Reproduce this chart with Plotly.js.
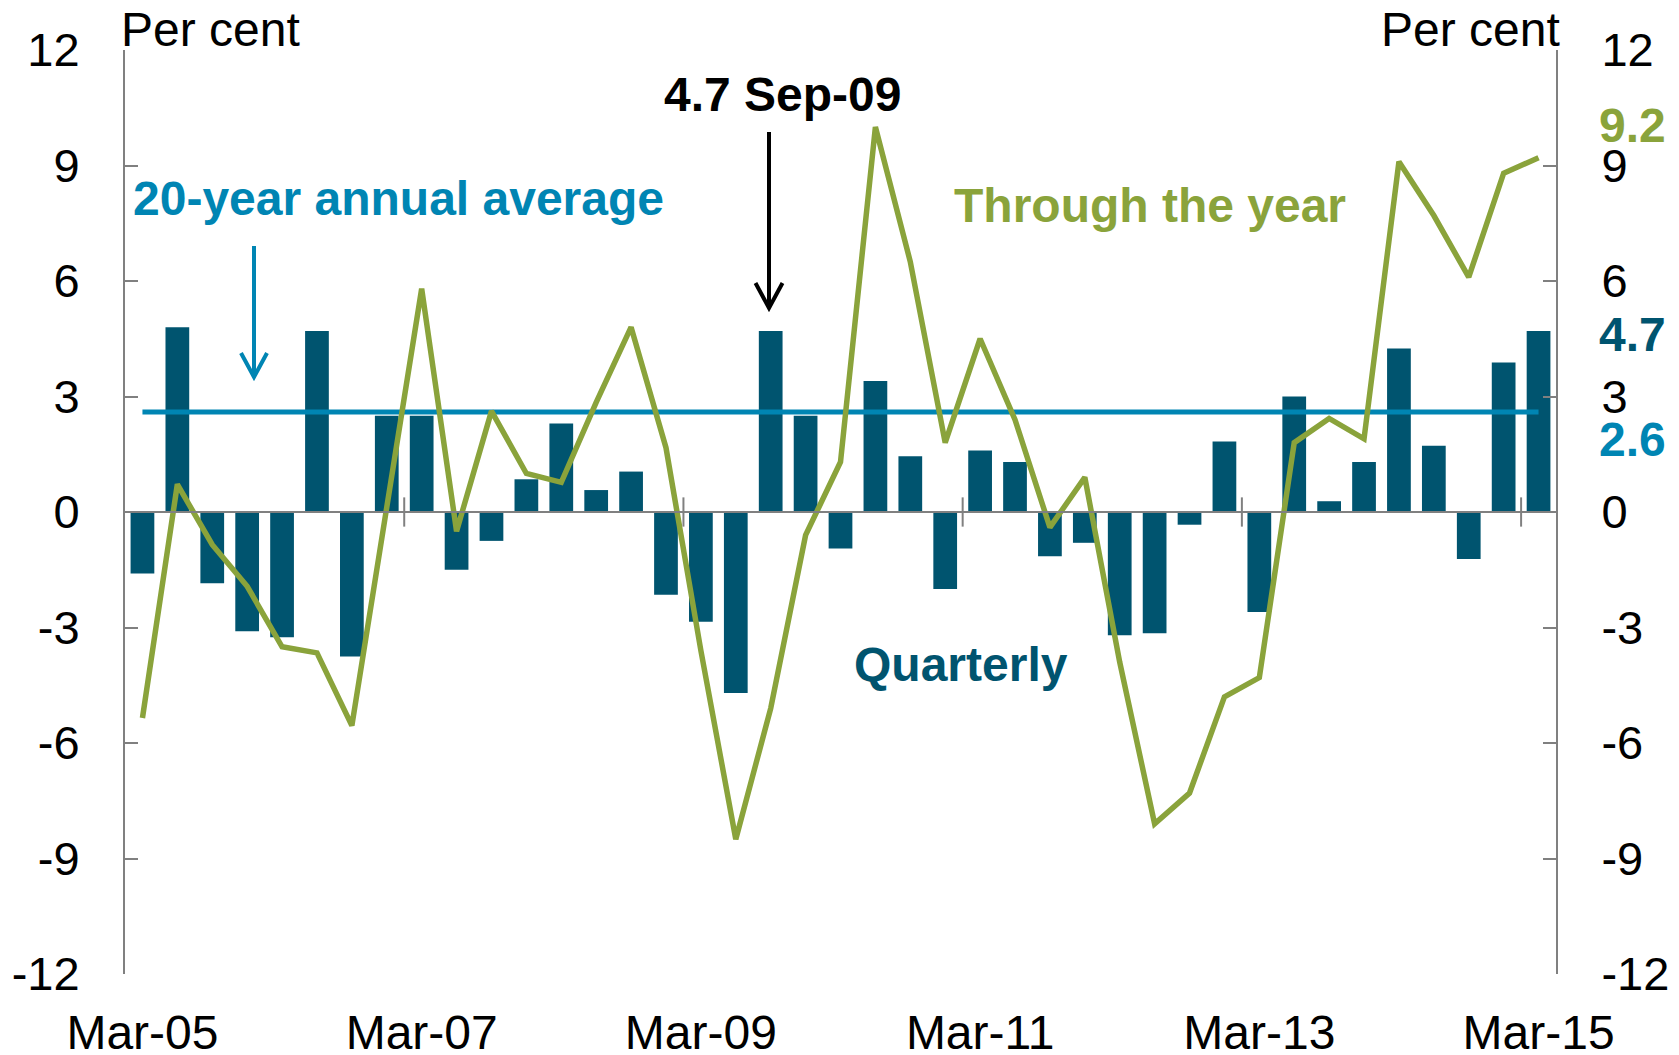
<!DOCTYPE html>
<html>
<head>
<meta charset="utf-8">
<script src="https://cdn.plot.ly/plotly-3.0.1.min.js"></script>
<style>
html,body{margin:0;padding:0;background:#fff;}
#chart{width:1679px;height:1055px;}
</style>
</head>
<body>
<div id="chart"></div>
<script>
// ---- Data ----
const categories = [
  'Mar-05','Jun-05','Sep-05','Dec-05','Mar-06','Jun-06','Sep-06','Dec-06',
  'Mar-07','Jun-07','Sep-07','Dec-07','Mar-08','Jun-08','Sep-08','Dec-08',
  'Mar-09','Jun-09','Sep-09','Dec-09','Mar-10','Jun-10','Sep-10','Dec-10',
  'Mar-11','Jun-11','Sep-11','Dec-11','Mar-12','Jun-12','Sep-12','Dec-12',
  'Mar-13','Jun-13','Sep-13','Dec-13','Mar-14','Jun-14','Sep-14','Dec-14',
  'Mar-15'
];
const quarterly = [
  -1.6, 4.8, -1.85, -3.1, -3.25, 4.7, -3.75, 2.5,
  2.5, -1.5, -0.75, 0.85, 2.3, 0.57, 1.05, -2.15,
  -2.85, -4.7, 4.7, 2.5, -0.95, 3.4, 1.45, -2.0,
  1.6, 1.3, -1.15, -0.8, -3.2, -3.15, -0.33, 1.83,
  -2.6, 3.0, 0.28, 1.3, 4.25, 1.72, -1.22, 3.88,
  4.7
];
const throughYear = [
  -5.35, 0.72, -0.85, -1.93, -3.5, -3.66, -5.55, 0.05,
  5.8, -0.5, 2.62, 1.0, 0.77, 2.85, 4.8, 1.67,
  -3.6, -8.5, -5.1, -0.6, 1.3, 10.0, 6.5, 1.8,
  4.5, 2.4, -0.4, 0.9, -3.9, -8.1, -7.3, -4.8,
  -4.3, 1.8, 2.43, 1.9, 9.1, 7.7, 6.1, 8.8,
  9.2
];
const average20yr = 2.6;
const xTickLabels = ['Mar-05','Mar-07','Mar-09','Mar-11','Mar-13','Mar-15'];
const yTickVals = [-12,-9,-6,-3,0,3,6,9,12];
const yTickText = ['-12','-9','-6','-3','0','3','6','9','12'];

// ---- Styles ----
const FONT = 'Liberation Sans, Arial, sans-serif';
const C_BAR = '#00546F';
const C_GREEN = '#8AA33B';
const C_AVG = '#0085B3';
const C_AXIS = '#808080';
const FS = 48;
const FSB = 48;

// plot area in pixels
const W = 1679, H = 1055;
const L = 125, R = 1556, T = 50, B = 974;
const px = x => (x - L) / (R - L);
const py = y => (B - y) / (B - T);

const traces = [
  {
    type: 'bar', x: categories, y: quarterly, width: 0.68,
    marker: {color: C_BAR, line: {width: 0}}, yaxis: 'y', xaxis: 'x',
    hoverinfo: 'skip'
  },
  {
    type: 'scatter', mode: 'lines', x: categories, y: throughYear,
    line: {color: C_GREEN, width: 5.5}, yaxis: 'y2', xaxis: 'x',
    hoverinfo: 'skip'
  },
  {
    type: 'scatter', mode: 'lines',
    x: [categories[0], categories[categories.length - 1]],
    y: [average20yr, average20yr],
    line: {color: C_AVG, width: 5}, yaxis: 'y', xaxis: 'x',
    hoverinfo: 'skip'
  }
];

const yCommon = {
  range: [-12, 12], tickvals: yTickVals, ticktext: yTickText,
  ticks: 'inside', ticklen: 13, tickwidth: 2, tickcolor: C_AXIS,
  showline: true, linecolor: C_AXIS, linewidth: 2,
  showgrid: false, zeroline: false,
  tickfont: {family: FONT, size: 47, color: '#000'},
  ticklabelstandoff: 34, fixedrange: true
};

// x-axis tick marks at category boundaries every 8 quarters, crossing zero
const shapes = [];
for (let i = 8; i < categories.length; i += 8) {
  shapes.push({type: 'line', xref: 'x', yref: 'y', x0: i - 0.5, x1: i - 0.5,
    y0: -0.38, y1: 0.38, line: {color: C_AXIS, width: 2}, layer: 'above'});
}
// zero line
shapes.push({type: 'line', xref: 'paper', yref: 'y', x0: 0, x1: 1, y0: 0, y1: 0,
  line: {color: C_AXIS, width: 2}, layer: 'above'});

function arrowPath(x, yTail, yHead, hw, hh) {
  return 'M ' + px(x) + ',' + py(yTail) + ' L ' + px(x) + ',' + py(yHead) +
    ' M ' + px(x - hw) + ',' + py(yHead - hh) + ' L ' + px(x) + ',' + py(yHead) +
    ' L ' + px(x + hw) + ',' + py(yHead - hh);
}
shapes.push({type: 'path', xref: 'paper', yref: 'paper',
  path: arrowPath(254, 246, 377, 13, 24), line: {color: C_AVG, width: 4}});
shapes.push({type: 'path', xref: 'paper', yref: 'paper',
  path: arrowPath(769, 132, 308, 13.5, 25), line: {color: '#000', width: 4}});

function txt(text, x, y, color, bold, xanchor) {
  return {text: bold ? '<b>' + text + '</b>' : text, xref: 'paper', yref: 'paper',
    x: px(x), y: py(y), xanchor: xanchor || 'center', yanchor: 'middle',
    showarrow: false, font: {family: FONT, size: bold ? FSB : FS, color: color}};
}

const annotations = [
  txt('Per cent', 119, 30, '#000', false, 'left'),
  txt('Per cent', 1562, 30, '#000', false, 'right'),
  txt('20-year annual average', 398, 198, C_AVG, true),
  txt('4.7 Sep-09', 782, 94, '#000', true),
  txt('Through the year', 1150, 206, C_GREEN, true),
  txt('Quarterly', 961, 664, C_BAR, true),
  txt('9.2', 1597, 126, C_GREEN, true, 'left'),
  txt('4.7', 1597, 334, C_BAR, true, 'left'),
  txt('2.6', 1597, 439, C_AVG, true, 'left')
];

const layout = {
  width: W, height: H,
  margin: {l: L, r: W - R, t: T, b: H - B, pad: 0},
  paper_bgcolor: '#fff', plot_bgcolor: '#fff',
  showlegend: false, bargap: 0.3,
  font: {family: FONT, size: FS, color: '#000'},
  xaxis: {
    type: 'category', range: [-0.5, categories.length - 0.5],
    tickvals: xTickLabels, ticktext: xTickLabels,
    ticks: '', showline: false, showgrid: false, zeroline: false,
    tickfont: {family: FONT, size: FS, color: '#000'},
    ticklabelstandoff: 26, fixedrange: true
  },
  yaxis: Object.assign({}, yCommon, {side: 'left'}),
  yaxis2: Object.assign({}, yCommon, {side: 'right', overlaying: 'y', anchor: 'x'}),
  shapes: shapes,
  annotations: annotations
};

Plotly.newPlot('chart', traces, layout, {staticPlot: true, displayModeBar: false});
</script>
</body>
</html>
